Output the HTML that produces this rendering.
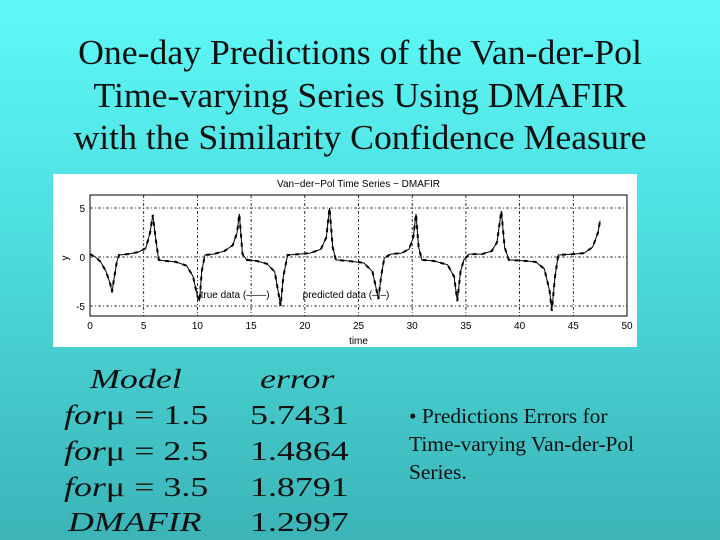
<!DOCTYPE html>
<html><head><meta charset="utf-8"><style>
body{margin:0;width:720px;height:540px;overflow:hidden;background:linear-gradient(#5ff8f8 0%,#4fe0e0 40%,#3cb4b8 100%);font-family:"Liberation Serif",serif;position:relative}
.t{position:absolute;left:0;width:720px;text-align:center;font-size:35px;color:#111;top:32px;line-height:42.5px;transform:scaleX(1.02)}
.m{position:absolute;font-size:27px;color:#111;white-space:nowrap;transform:scaleX(1.33);transform-origin:0 0}
.i{font-style:italic}
.b{position:absolute;left:409px;top:402px;font-size:21px;line-height:28px;color:#111;white-space:nowrap;transform:scaleX(1.02);transform-origin:0 0}
</style></head><body>
<div class="t">One-day Predictions of the Van-der-Pol<br>Time-varying Series Using DMAFIR<br>with the Similarity Confidence Measure</div>
<svg style="position:absolute;left:0;top:0" width="720" height="540">
<rect x="53" y="174" width="584" height="173" fill="#fff"/>
<g id="g" font-family="Liberation Sans,sans-serif" font-size="10"></g>
</svg>
<div class="m i" style="left:90px;top:364px">Model</div>
<div class="m i" style="left:260px;top:364px">error</div>
<div class="m" style="left:64px;top:400px"><i>for</i>&mu; = 1.5</div>
<div class="m" style="left:250px;top:400px">5.7431</div>
<div class="m" style="left:64px;top:436px"><i>for</i>&mu; = 2.5</div>
<div class="m" style="left:250px;top:436px">1.4864</div>
<div class="m" style="left:64px;top:472px"><i>for</i>&mu; = 3.5</div>
<div class="m" style="left:250px;top:472px">1.8791</div>
<div class="m i" style="left:68px;top:507px">DMAFIR</div>
<div class="m" style="left:250px;top:507px">1.2997</div>
<div class="b">• Predictions Errors for<br>Time-varying Van-der-Pol<br>Series.</div>
<script>
const times=[0,0.5,1,1.5,1.9,2.05,2.2,2.5,2.7,3.5,4.5,5.2,5.6,5.85,6.1,6.4,7,8,9,9.6,10,10.2,10.4,10.7,11.5,12.5,13.3,13.7,13.9,14.2,14.6,15.5,16.5,17.2,17.6,17.75,18,18.4,19.5,20.5,21.5,22,22.3,22.6,22.9,24,25.5,26.3,26.7,26.85,27.1,27.4,28,29,29.7,30.1,30.35,30.6,30.9,32,33.3,33.9,34.2,34.5,34.8,35.3,36.5,37.4,37.9,38.3,38.6,39,40.5,41.5,42.3,42.8,43,43.3,43.6,45,46,46.8,47.3,47.5];
const values=[0.3,0,-0.5,-1.5,-2.8,-3.6,-2.5,-0.5,0.2,0.3,0.5,0.9,2.5,4.3,2,-0.3,-0.4,-0.5,-0.9,-2,-4,-4.5,-1.5,0.2,0.3,0.6,1.2,2.5,4.4,0.3,-0.3,-0.4,-0.7,-1.5,-4,-5,-2,0.2,0.3,0.4,0.8,2,5,1,-0.3,-0.4,-0.6,-1.5,-3.5,-4.3,-2,-0.1,0.3,0.4,0.8,2,4.4,1,-0.3,-0.4,-0.8,-2,-4.5,-1.5,-0.3,0.3,0.3,0.6,1.5,4.7,1,-0.3,-0.4,-0.5,-1.2,-3.5,-5.5,-2,0.2,0.3,0.4,1,2.5,3.7];
const xTicks=[0,5,10,15,20,25,30,35,40,45,50];
const yTicks=[5,0,-5];
const X0=90,X1=627,Y0=316,Y1=195;
const xs=t=>X0+(t-0)/(50-0)*(X1-X0);
const ys=v=>257-v*9.8;
const g=document.getElementById('g');
const NS='http://www.w3.org/2000/svg';
function mk(tag,attrs,txt){const e=document.createElementNS(NS,tag);for(const k in attrs)e.setAttribute(k,attrs[k]);if(txt!==undefined)e.textContent=txt;g.appendChild(e);return e;}
let e;
e=mk('rect',{x:X0,y:Y1,width:X1-X0,height:Y0-Y1,fill:'none',stroke:'#000','stroke-width':1});


xTicks.forEach(t=>{
 if(t>0&&t<50){e=mk('line',{x1:xs(t),x2:xs(t),y1:Y1,y2:Y0,stroke:'#000','stroke-dasharray':'3,2,1,2','stroke-width':0.8});
 
 }
 e=mk('text',{x:xs(t),y:Y0+13,'text-anchor':'middle'},t);
 
 
});
yTicks.forEach(v=>{
 e=mk('line',{x1:X0,x2:X1,y1:ys(v),y2:ys(v),stroke:'#000','stroke-dasharray':'3,2,1,2','stroke-width':0.8});
 
 
 e=mk('text',{x:X0-5,y:ys(v)+4,'text-anchor':'end'},v);
 
 
});
const pts=times.map((t,i)=>xs(t).toFixed(1)+','+ys(values[i]).toFixed(1)).join(' ');
e=mk('polyline',{points:pts,fill:'none',stroke:'#000','stroke-width':1});


e=mk('polyline',{points:pts,fill:'none',stroke:'#000','stroke-width':2,'stroke-dasharray':'4,5'});


e=mk('text',{x:(X0+X1)/2,y:187,'text-anchor':'middle'},'Van−der−Pol Time Series − DMAFIR');


e=mk('text',{x:xs(25),y:344,'text-anchor':'middle'},'time');


e=mk('text',{x:68,y:258,'text-anchor':'middle',transform:'rotate(-90 68 258)'},'y');


e=mk('text',{x:xs(10.3),y:298},'true data (——)');


e=mk('text',{x:xs(19.8),y:298},'predicted data (– –)');


</script>
</body></html>
